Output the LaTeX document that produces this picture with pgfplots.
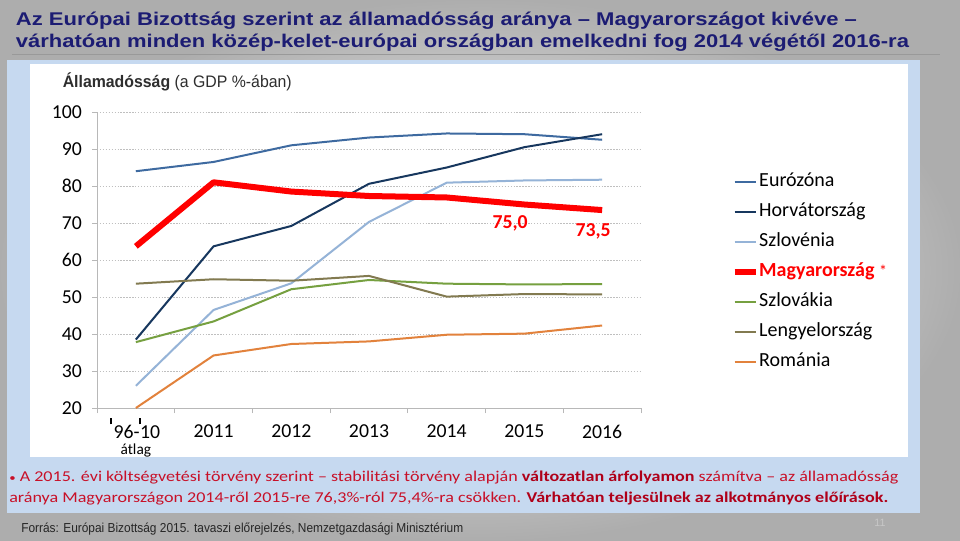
\documentclass[border=0pt]{standalone}
\usepackage{fontspec}
\setmainfont{Carlito}
\newfontfamily\arial{Liberation Sans}
\usepackage{graphicx}
\usepackage{pgfplots}
\pgfplotsset{compat=1.18}
\definecolor{titleblue}{RGB}{28,28,115}
\definecolor{panelblue}{RGB}{198,217,240}
\definecolor{notered}{RGB}{200,16,40}
\definecolor{notebold}{RGB}{175,0,25}
\definecolor{ceur}{RGB}{62,106,160}
\definecolor{chrv}{RGB}{23,55,94}
\definecolor{cslo}{RGB}{149,179,215}
\definecolor{chun}{RGB}{255,0,0}
\definecolor{cslk}{RGB}{118,160,64}
\definecolor{cpol}{RGB}{130,122,80}
\definecolor{crom}{RGB}{226,130,60}
\newcommand{\tickfont}{\fontsize{14.8pt}{12pt}\selectfont}
\newcommand{\apos}{\smash{\raisebox{10.5pt}{\rule{1.4pt}{4.5pt}}}}
\begin{document}
\begin{tikzpicture}
\begin{scope}[x=0.75pt,y=-0.75pt]
\useasboundingbox (0,0) rectangle (960,540);
\shade[inner color=white, outer color=black!32] (0,0) rectangle (960,540);
\draw[black!40, line width=0.75pt] (12,54) -- (940,54);
\fill[panelblue] (7,60) rectangle (920,513);
\fill[white] (30,64) rectangle (908,457);
\node[anchor=base west, inner sep=0pt, text=titleblue] at (15.7,25) {\resizebox{630.75pt}{\height}{\arial\fontsize{13.8pt}{16pt}\selectfont\bfseries Az Európai Bizottság szerint az államadósság aránya – Magyarországot kivéve –}};
\node[anchor=base west, inner sep=0pt, text=titleblue] at (15.7,47) {\resizebox{669.75pt}{\height}{\arial\fontsize{13.8pt}{16pt}\selectfont\bfseries várhatóan minden közép-kelet-európai országban emelkedni fog 2014 végétől 2016-ra}};
\node[anchor=base west, inner sep=0pt, text=black!82] at (62.5,87) {\resizebox{171.75pt}{\height}{\arial\fontsize{12.5pt}{15pt}\selectfont\textbf{Államadósság} (a GDP \%-ában)}};
\node[anchor=base west, inner sep=0pt, text=notered] at (9,481) {\resizebox{666.75pt}{\height}{\fontsize{11.25pt}{13pt}\selectfont{\fontsize{8pt}{8pt}\selectfont\textbullet}~A 2015. évi költségvetési törvény szerint – stabilitási törvény alapján {\color{notebold}\bfseries változatlan árfolyamon} számítva – az államadósság}};
\node[anchor=base west, inner sep=0pt, text=notered] at (9,502.5) {\resizebox{659.25pt}{\height}{\fontsize{11.25pt}{13pt}\selectfont aránya Magyarországon 2014-ről 2015-re 76,3\%-ról 75,4\%-ra csökken. {\color{notebold}\bfseries Várhatóan teljesülnek az alkotmányos előírások.}}};
\node[anchor=base west, inner sep=0pt, text=black!85] at (21,532) {\resizebox{331.5pt}{\height}{\arial\fontsize{9.75pt}{12pt}\selectfont Forrás: Európai Bizottság 2015. tavaszi előrejelzés, Nemzetgazdasági Minisztérium}};
\node[inner sep=0pt, text=black!22, font=\arial\fontsize{8pt}{10pt}\selectfont] at (880,523) {11};
\end{scope}
\begin{axis}[
  at={(72.75pt,-306pt)}, anchor=south west,
  scale only axis, width=408pt, height=222pt,
  xmin=-0.5, xmax=6.5, ymin=20, ymax=100,
  axis x line=bottom, axis y line=left,
  axis line style={-, draw=black!28, line width=0.75pt},
  xtick={0,...,6},
  xticklabels={{\kern-1pt\apos\kern1pt 96-\kern-0.6pt\apos\kern-0.4pt 10\\{\fontsize{11.5pt}{12pt}\selectfont átlag}},2011,2012,2013,2014,2015,2016},
  minor xtick={-0.5,0.5,...,6.5},
  ytick={20,30,...,100},
  yticklabels={{\tickfont 20},{\tickfont 30},{\tickfont 40},{\tickfont 50},{\tickfont 60},{\tickfont 70},{\tickfont 80},{\tickfont 90},{\tickfont 100}},
  tick align=outside,
  major tick length=3.75pt,
  minor tick length=3.75pt,
  tick style={draw=black!28, line width=0.75pt},
  major x tick style={draw=none},
  ymajorgrids, grid style={dash pattern=on 1pt off 1.2pt, draw=black!25, line width=0.6pt},
  tick label style={font=\tickfont},
  xticklabel style={font=\tickfont, text=black, align=center, yshift=-5.5pt},
  yticklabel style={font=\tickfont, text=black, xshift=-4pt},
  legend style={at={(1.166,0.795)}, anchor=north west, draw=none, fill=none, inner sep=0pt, row sep=9pt, column sep=0pt, font=\fontsize{15pt}{17pt}\selectfont, nodes={inner sep=0pt, inner xsep=0.5pt, text height=10pt, text depth=3.5pt}},
  legend cell align=left,
  legend image code/.code={\draw[#1] (0pt,0pt) -- (15.75pt,0pt);},
  every axis plot/.append style={mark=none, line join=round, line width=1.5pt},
]
\addplot[ceur] coordinates {(0,84.0) (1,86.5) (2,91.0) (3,93.1) (4,94.2) (5,94.0) (6,92.5)};
\addlegendentry{Eurózóna}
\addplot[chrv] coordinates {(0,38.5) (1,63.7) (2,69.2) (3,80.6) (4,85.0) (5,90.5) (6,94.0)};
\addlegendentry{Horvátország}
\addplot[cslo] coordinates {(0,26.0) (1,46.5) (2,53.7) (3,70.3) (4,80.9) (5,81.5) (6,81.7)};
\addlegendentry{Szlovénia}
\addplot[chun, line width=4.5pt] coordinates {(0,63.7) (1,81.0) (2,78.5) (3,77.3) (4,76.9) (5,75.0) (6,73.5)};
\addlegendentry{{\color{red}\bfseries Magyarország} {\color{red}\fontsize{12pt}{12pt}\selectfont *}}
\addplot[cslk] coordinates {(0,37.8) (1,43.4) (2,52.1) (3,54.6) (4,53.6) (5,53.4) (6,53.5)};
\addlegendentry{Szlovákia}
\addplot[cpol] coordinates {(0,53.6) (1,54.8) (2,54.4) (3,55.7) (4,50.1) (5,50.8) (6,50.7)};
\addlegendentry{Lengyelország}
\addplot[crom] coordinates {(0,20.0) (1,34.2) (2,37.3) (3,38.0) (4,39.8) (5,40.1) (6,42.3)};
\addlegendentry{Románia}
\node[text=red, font=\bfseries\fontsize{14.8pt}{17pt}\selectfont] at (axis cs:4.815,70.0) {75,0};
\node[text=red, font=\bfseries\fontsize{14.8pt}{17pt}\selectfont] at (axis cs:5.883,67.7) {73,5};
\end{axis}
\end{tikzpicture}
\end{document}
